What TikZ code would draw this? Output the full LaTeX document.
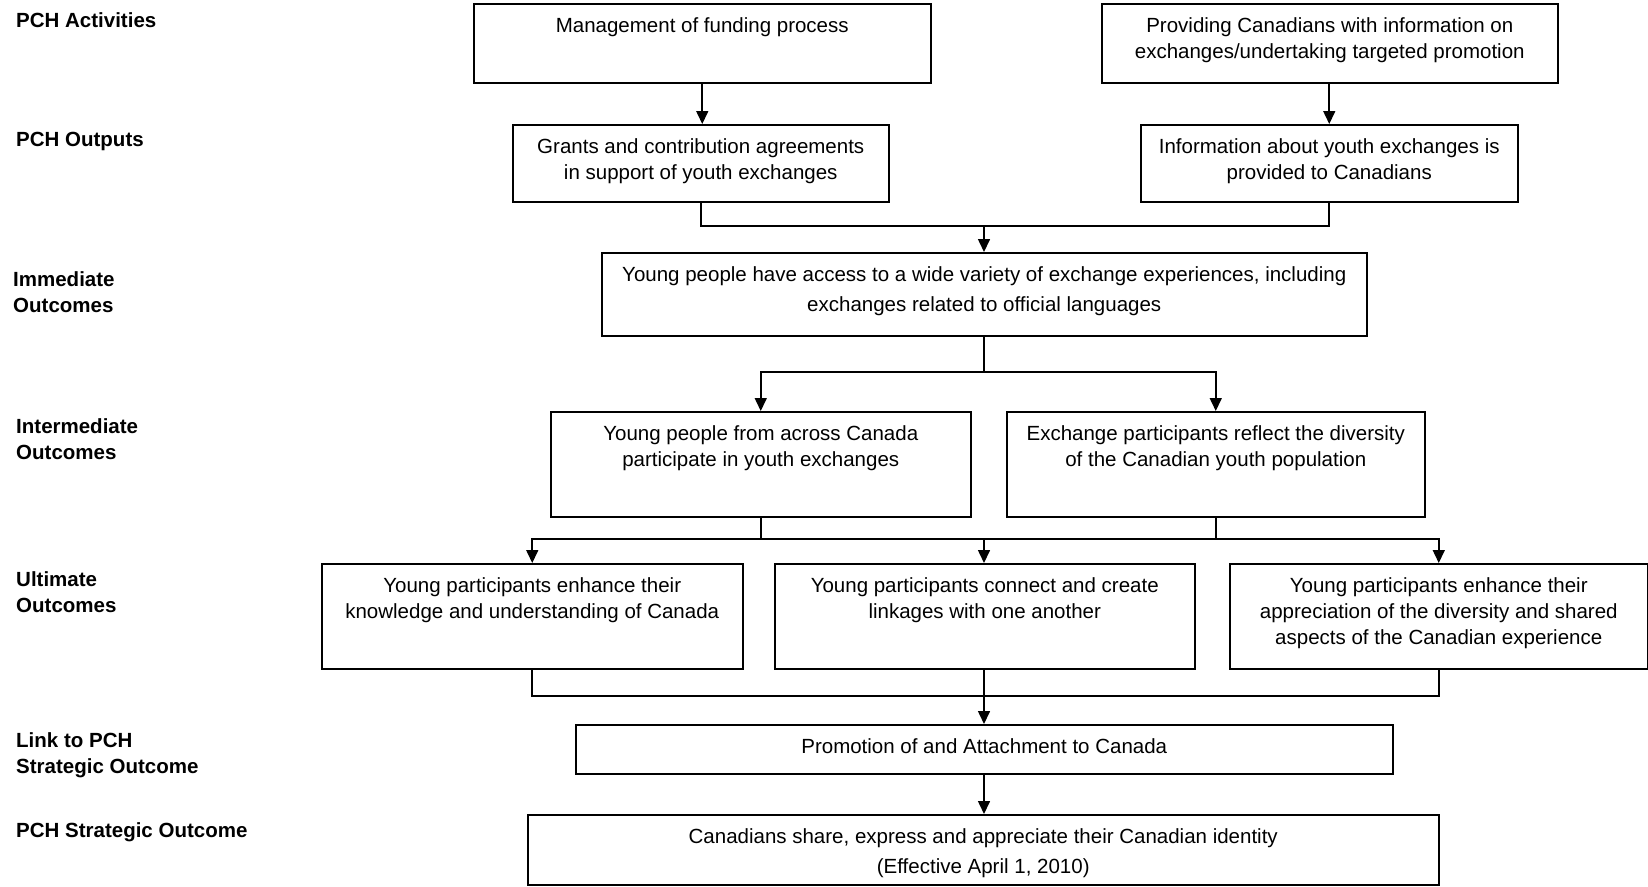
\documentclass[tikz,border=0pt]{standalone}
\usepackage{fontspec}
\setmainfont{Liberation Sans}
\usetikzlibrary{arrows.meta}

\newcommand{\boxlines}[3]{\parbox[t][#2][t]{#1}{\centering\vspace*{14pt}#3}}

\tikzset{
  stage/.style={draw, line width=1.5pt, inner sep=0pt, anchor=north west,
    font=\fontsize{20.5}{26}\selectfont},
  widestage/.style={stage, font=\fontsize{20.5}{30}\selectfont},
  level/.style={anchor=north west, inner sep=0pt, align=left,
    font=\bfseries\fontsize{20.5}{26}\selectfont},
  flow/.style={line width=1.6pt},
  flowarrow/.style={flow, -{Triangle[length=13pt,width=12pt]}}
}

\begin{document}
\begin{tikzpicture}[x=1pt,y=1pt,yscale=-1,xscale=1]
\useasboundingbox (0,0) rectangle (1648,886);
% Level labels
\node[level] (lblact) at (16,12) {PCH Activities};
\node[level] (lblout) at (16,132) {PCH Outputs};
\node[level] (lblimm) at (13,271) {Immediate\\Outcomes};
\node[level] (lblint) at (16,418) {Intermediate\\Outcomes};
\node[level] (lblult) at (16,571) {Ultimate\\Outcomes};
\node[level] (lbllink) at (16,732) {Link to PCH\\Strategic Outcome};
\node[level] (lblstrat) at (16,822) {PCH Strategic Outcome};
% Activities
\node[stage] (act1) at (473,3) {\boxlines{457pt}{79pt}{Management of funding process}};
\node[stage] (act2) at (1101,3) {\boxlines{456pt}{79pt}{Providing Canadians with information on\\exchanges/undertaking targeted promotion}};
% Outputs
\node[stage] (out1) at (512,124) {\boxlines{376pt}{77pt}{Grants and contribution agreements\\in support of youth exchanges}};
\node[stage] (out2) at (1140,124) {\boxlines{377pt}{77pt}{Information about youth exchanges is\\provided to Canadians}};
% Immediate outcome
\node[widestage] (imm) at (601,252) {\boxlines{765pt}{83pt}{Young people have access to a wide variety of exchange experiences, including\\exchanges related to official languages}};
% Intermediate outcomes
\node[stage] (int1) at (550,411) {\boxlines{420pt}{105pt}{Young people from across Canada\\participate in youth exchanges}};
\node[stage] (int2) at (1006,411) {\boxlines{418pt}{105pt}{Exchange participants reflect the diversity\\of the Canadian youth population}};
% Ultimate outcomes
\node[stage] (ult1) at (321,563) {\boxlines{421pt}{105pt}{Young participants enhance their\\knowledge and understanding of Canada}};
\node[stage] (ult2) at (774,563) {\boxlines{420pt}{105pt}{Young participants connect and create\\linkages with one another}};
\node[stage] (ult3) at (1229,563) {\boxlines{418pt}{105pt}{Young participants enhance their\\appreciation of the diversity and shared\\aspects of the Canadian experience}};
% Link and strategic outcome
\node[stage] (link) at (575,724) {\boxlines{817pt}{49pt}{Promotion of and Attachment to Canada}};
\node[widestage] (strat) at (527,814) {\boxlines{911pt}{70pt}{Canadians share, express and appreciate their Canadian identity\\(Effective April 1, 2010)}};
% Junctions
\coordinate (j1) at (984,226);
\coordinate (j2) at (984,372);
\coordinate (j3) at (984,539);
\coordinate (j4) at (984,696);
% Connectors
\draw[flowarrow] (act1.south) -- (act1.south |- out1.north);
\draw[flowarrow] (out2.north |- act2.south) -- (out2.north);
\draw[flow] (out1.south) |- (j1) -| (out2.south);
\draw[flowarrow] (j1) -- (j1 |- imm.north);
\draw[flow] (j2 |- imm.south) -- (j2);
\draw[flowarrow] (j2) -| (int1.north);
\draw[flowarrow] (j2) -| (int2.north);
\draw[flow] (int1.south) |- (j3) -| (int2.south);
\draw[flowarrow] (j3) -| (ult1.north);
\draw[flowarrow] (j3) -| (ult3.north);
\draw[flowarrow] (j3) -- (j3 |- ult2.north);
\draw[flow] (ult1.south) |- (j4) -| (ult3.south);
\draw[flow] (j4 |- ult2.south) -- (j4);
\draw[flowarrow] (j4) -- (j4 |- link.north);
\draw[flowarrow] (j4 |- link.south) -- (j4 |- strat.north);
\end{tikzpicture}
\end{document}
